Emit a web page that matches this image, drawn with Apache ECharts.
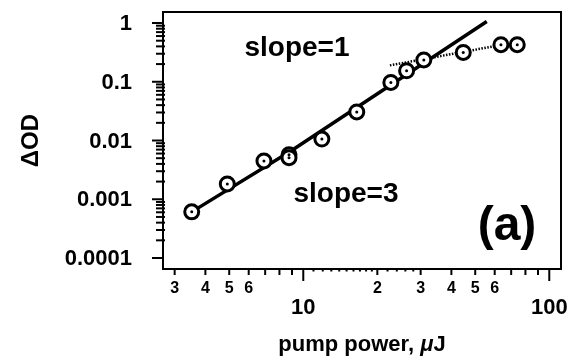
<!DOCTYPE html>
<html>
<head>
<meta charset="utf-8">
<script src="https://cdn.jsdelivr.net/npm/echarts@6/dist/echarts.min.js"></script>
<style>html,body{margin:0;padding:0;background:#fff}#c{width:569px;height:364px}</style>
</head>
<body>
<div id="c"></div>
<script>
// measured data points (pump power in µJ, ΔOD)
const xPoints = [3.52, 4.91, 6.92, 8.75, 8.75, 11.9, 16.5, 22.7, 26.3, 30.9, 44.7, 63.6, 74.1];
const yPoints = [0.00061, 0.00182, 0.0045, 0.0057, 0.0051, 0.0106, 0.0306, 0.0975, 0.154, 0.235, 0.316, 0.427, 0.427];
// slope=3 fit line
const fitX = [3.52, 8.84, 55.7];
const fitY = [0.00061, 0.0065, 1.06];
// saturation (slope=1) dotted line
const satX = [22.5, 63.0];
const satY = [0.19, 0.42];
// axis ticks
const X_MIN = 2.69, X_MAX = 111.6, Y_MIN = 0.000065, Y_MAX = 1.54;
const xMajorTicks = [10, 100];
const xMajorLabels = ['10', '100'];
const xMidTicks = [3, 4, 5, 6, 7, 8, 9, 20, 30, 40, 50, 60, 70, 80, 90];
const xMidLabels = ['3', '4', '5', '6', '', '', '', '2', '3', '4', '5', '6', '', '', ''];
const xSmallTicks = [11, 12, 13, 14, 15, 16, 17, 18, 19, 22, 24, 26, 28];
const yMajorTicks = [1, 0.1, 0.01, 0.001, 0.0001];
const yMajorLabels = ['1', '0.1', '0.01', '0.001', '0.0001'];
const yMinorMultipliers = [2, 3, 4, 5, 6, 7, 8, 9];
const yMinorDecades = [0.1, 0.01, 0.001, 0.0001];

const FONT = '"Liberation Sans", Arial, Helvetica, sans-serif';
const yMinorTicks = [];
yMinorDecades.forEach(d => yMinorMultipliers.forEach(m => yMinorTicks.push(+(m * d).toPrecision(3))));

function xTickSeries(values, labels, len, gap, fontSize) {
  return {
    type: 'custom', silent: true, clip: false, z: 5,
    data: values.map(v => [v, Y_MIN]),
    renderItem: function (params, api) {
      const p = api.coord([api.value(0), Y_MIN]);
      const children = [{type: 'line', shape: {x1: p[0], y1: p[1], x2: p[0], y2: p[1] + len}, style: {stroke: '#000', lineWidth: 2}}];
      const lab = labels ? labels[params.dataIndex] : '';
      if (lab) children.push({type: 'text', x: p[0], y: p[1] + gap, style: {text: lab, fill: '#000', font: 'bold ' + fontSize + 'px ' + FONT, align: 'center', verticalAlign: 'top'}});
      return {type: 'group', children: children};
    }
  };
}
function yTickSeries(values, labels, x1off, x2off) {
  return {
    type: 'custom', silent: true, clip: false, z: 5,
    data: values.map(v => [X_MIN, v]),
    renderItem: function (params, api) {
      const p = api.coord([X_MIN, api.value(1)]);
      const children = [{type: 'line', shape: {x1: p[0] + x1off, y1: p[1], x2: p[0] + x2off, y2: p[1]}, style: {stroke: '#000', lineWidth: 2}}];
      const lab = labels ? labels[params.dataIndex] : '';
      if (lab) children.push({type: 'text', x: p[0] - 31, y: p[1] + 1, style: {text: lab, fill: '#000', font: 'bold 22px ' + FONT, align: 'right', verticalAlign: 'middle'}});
      return {type: 'group', children: children};
    }
  };
}

const chart = echarts.init(document.getElementById('c'));
chart.setOption({
  animation: false,
  backgroundColor: '#fff',
  grid: {left: 163, top: 12, right: 8, bottom: 95, show: true, borderColor: '#000', borderWidth: 2, backgroundColor: 'transparent'},
  xAxis: {
    type: 'log', min: X_MIN, max: X_MAX,
    axisLine: {show: true, lineStyle: {color: '#000', width: 2}},
    axisTick: {show: false}, axisLabel: {show: false}, splitLine: {show: false},
    name: '{a|pump power, }{b|μ}{a|J}', nameLocation: 'middle', nameGap: 65,
    nameTextStyle: {rich: {a: {fontFamily: FONT, fontWeight: 'bold', fontSize: 22, color: '#000'}, b: {fontFamily: FONT, fontWeight: 'bold', fontStyle: 'italic', fontSize: 22, color: '#000'}}}
  },
  yAxis: {
    type: 'log', min: Y_MIN, max: Y_MAX,
    axisLine: {show: true, lineStyle: {color: '#000', width: 2}},
    axisTick: {show: false}, axisLabel: {show: false}, splitLine: {show: false},
    name: 'ΔOD', nameLocation: 'middle', nameGap: 120, nameRotate: 90,
    nameTextStyle: {fontFamily: FONT, fontWeight: 'bold', fontSize: 24, color: '#000'}
  },
  graphic: [
    {type: 'text', x: 297, y: 48, style: {text: 'slope=1', font: 'bold 28px ' + FONT, fill: '#000', align: 'center', verticalAlign: 'middle'}},
    {type: 'text', x: 346, y: 194, style: {text: 'slope=3', font: 'bold 28px ' + FONT, fill: '#000', align: 'center', verticalAlign: 'middle'}},
    {type: 'text', x: 507, y: 227, style: {text: '(a)', font: 'bold 48px ' + FONT, fill: '#000', align: 'center', verticalAlign: 'middle'}}
  ],
  series: [
    {type: 'line', data: fitX.map((x, i) => [x, fitY[i]]), symbol: 'none', lineStyle: {color: '#000', width: 3.5}, z: 2},
    {type: 'line', data: satX.map((x, i) => [x, satY[i]]), symbol: 'none', lineStyle: {color: '#000', width: 2.5, type: [1.5, 1.5]}, z: 2},
    {type: 'scatter', data: xPoints.map((x, i) => [x, yPoints[i]]), symbol: 'circle', symbolSize: 14, itemStyle: {color: '#fff', borderColor: '#000', borderWidth: 3, opacity: 1}, z: 3},
    {type: 'scatter', data: xPoints.map((x, i) => [x, yPoints[i]]), symbol: 'circle', symbolSize: 3, itemStyle: {color: '#000', opacity: 1}, z: 4},
    xTickSeries(xMajorTicks, xMajorLabels, 12, 28, 22),
    xTickSeries(xMidTicks, xMidLabels, 6, 12, 16),
    xTickSeries(xSmallTicks, null, 2.5, 0, 15),
    yTickSeries(yMajorTicks, yMajorLabels, -11, 0),
    yTickSeries(yMinorTicks, null, -7, 2)
  ]
});
</script>
</body>
</html>
